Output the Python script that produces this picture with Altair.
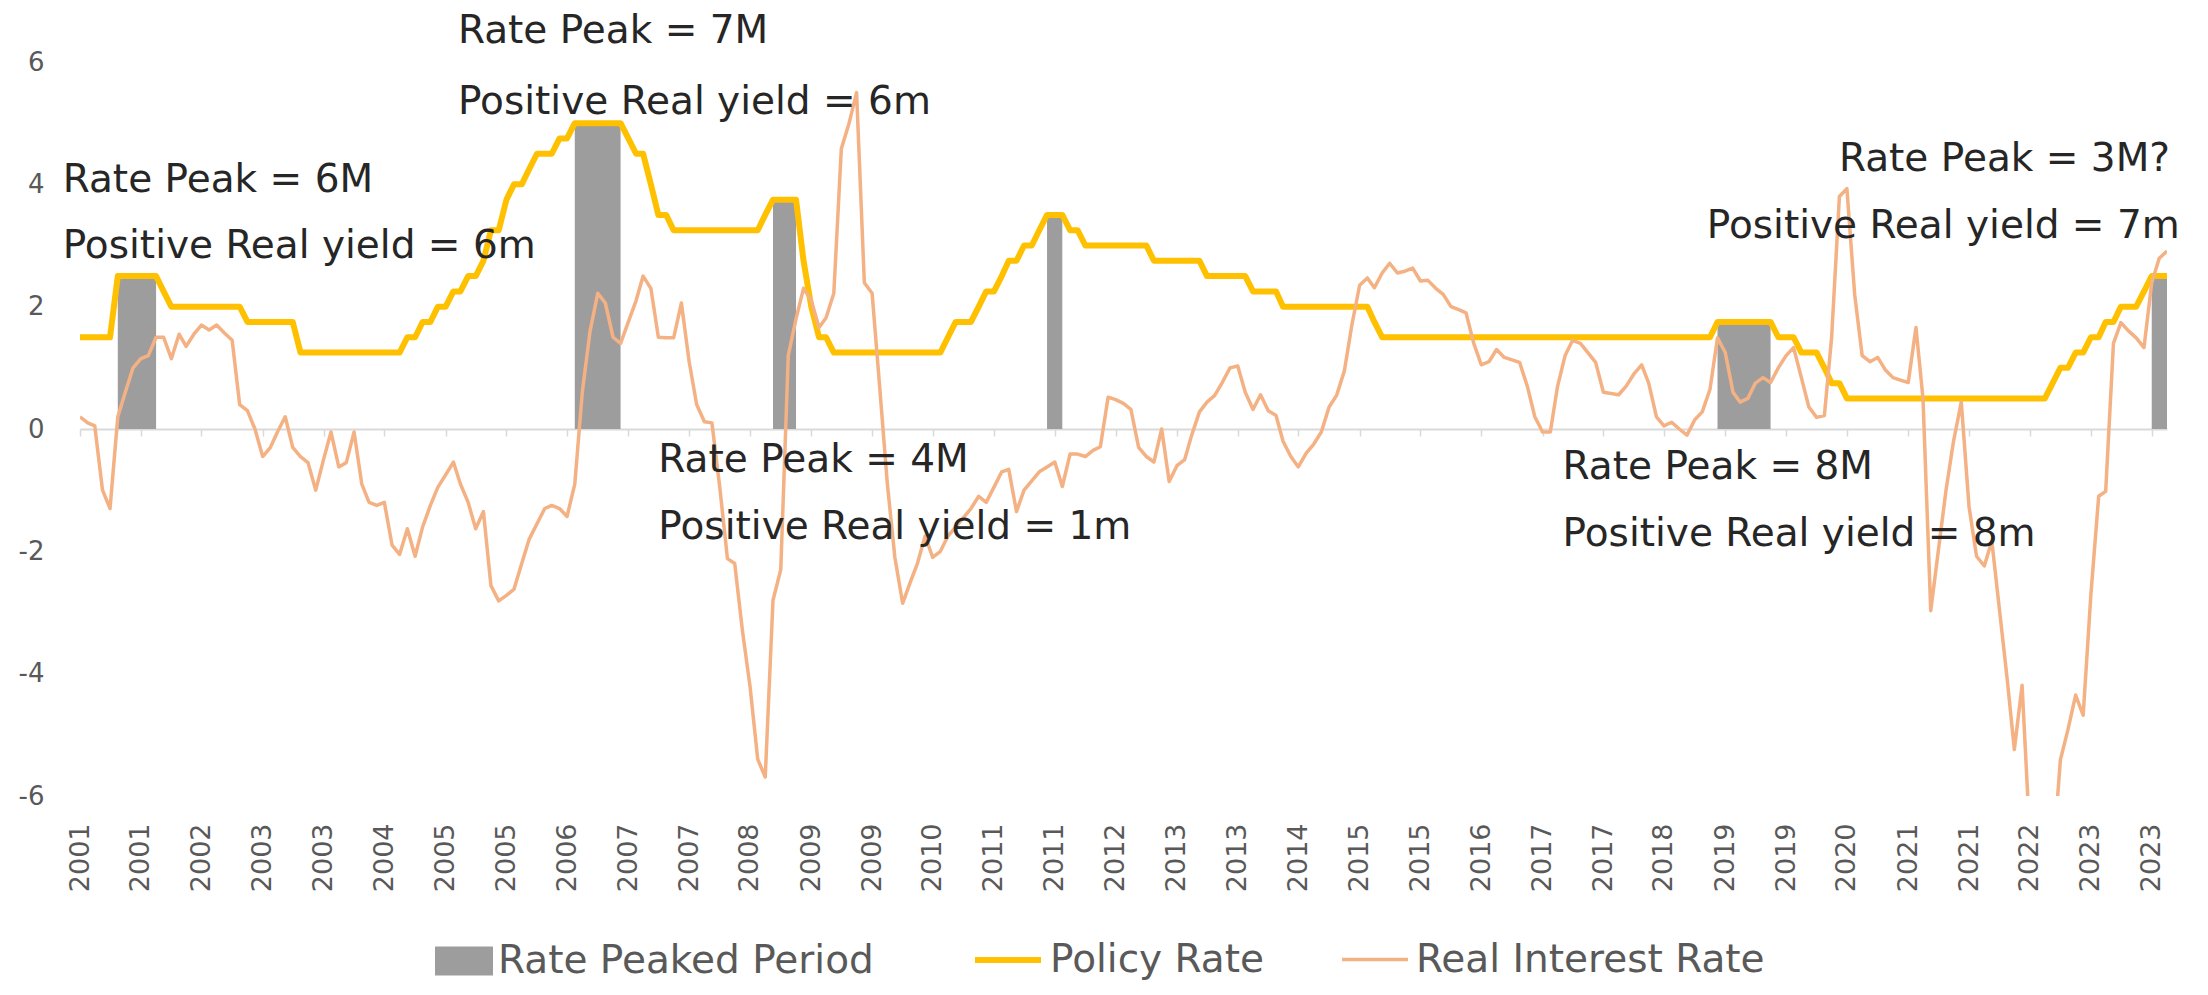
import altair as alt
import pandas as pd

FONT = "DejaVu Sans"

# ---- data (monthly, Jan 2001 .. Nov 2023) ----
start_month = "2001-01-01"

policy_rate = [
    1.5, 1.5, 1.5, 1.5, 1.5, 2.5, 2.5, 2.5, 2.5, 2.5, 2.5, 2.25,      # 2001
    2.0, 2.0, 2.0, 2.0, 2.0, 2.0, 2.0, 2.0, 2.0, 2.0, 1.75, 1.75,     # 2002
    1.75, 1.75, 1.75, 1.75, 1.75, 1.25, 1.25, 1.25, 1.25, 1.25, 1.25, 1.25,  # 2003
    1.25, 1.25, 1.25, 1.25, 1.25, 1.25, 1.25, 1.5, 1.5, 1.75, 1.75, 2.0,    # 2004
    2.0, 2.25, 2.25, 2.5, 2.5, 2.75, 3.25, 3.25, 3.75, 4.0, 4.0, 4.25,      # 2005
    4.5, 4.5, 4.5, 4.75, 4.75, 5.0, 5.0, 5.0, 5.0, 5.0, 5.0, 5.0,           # 2006
    4.75, 4.5, 4.5, 4.0, 3.5, 3.5, 3.25, 3.25, 3.25, 3.25, 3.25, 3.25,      # 2007
    3.25, 3.25, 3.25, 3.25, 3.25, 3.25, 3.5, 3.75, 3.75, 3.75, 3.75, 2.75,  # 2008
    2.0, 1.5, 1.5, 1.25, 1.25, 1.25, 1.25, 1.25, 1.25, 1.25, 1.25, 1.25,    # 2009
    1.25, 1.25, 1.25, 1.25, 1.25, 1.25, 1.5, 1.75, 1.75, 1.75, 2.0, 2.25,   # 2010
    2.25, 2.5, 2.75, 2.75, 3.0, 3.0, 3.25, 3.5, 3.5, 3.5, 3.25, 3.25,       # 2011
    3.0, 3.0, 3.0, 3.0, 3.0, 3.0, 3.0, 3.0, 3.0, 2.75, 2.75, 2.75,          # 2012
    2.75, 2.75, 2.75, 2.75, 2.5, 2.5, 2.5, 2.5, 2.5, 2.5, 2.25, 2.25,       # 2013
    2.25, 2.25, 2.0, 2.0, 2.0, 2.0, 2.0, 2.0, 2.0, 2.0, 2.0, 2.0,           # 2014
    2.0, 2.0, 1.75, 1.5, 1.5, 1.5, 1.5, 1.5, 1.5, 1.5, 1.5, 1.5,            # 2015
    1.5, 1.5, 1.5, 1.5, 1.5, 1.5, 1.5, 1.5, 1.5, 1.5, 1.5, 1.5,             # 2016
    1.5, 1.5, 1.5, 1.5, 1.5, 1.5, 1.5, 1.5, 1.5, 1.5, 1.5, 1.5,             # 2017
    1.5, 1.5, 1.5, 1.5, 1.5, 1.5, 1.5, 1.5, 1.5, 1.5, 1.5, 1.75,            # 2018
    1.75, 1.75, 1.75, 1.75, 1.75, 1.75, 1.75, 1.5, 1.5, 1.5, 1.25, 1.25,    # 2019
    1.25, 1.0, 0.75, 0.75, 0.5, 0.5, 0.5, 0.5, 0.5, 0.5, 0.5, 0.5,          # 2020
    0.5, 0.5, 0.5, 0.5, 0.5, 0.5, 0.5, 0.5, 0.5, 0.5, 0.5, 0.5,             # 2021
    0.5, 0.5, 0.5, 0.5, 0.5, 0.5, 0.5, 0.75, 1.0, 1.0, 1.25, 1.25,          # 2022
    1.5, 1.5, 1.75, 1.75, 2.0, 2.0, 2.0, 2.25, 2.5, 2.5, 2.5,               # 2023
]

real_rate = [
    0.2, 0.1, 0.05, -1.0, -1.3, 0.2, 0.6, 1.0, 1.15, 1.2, 1.5, 1.5,               # 2001
    1.15, 1.55, 1.35, 1.55, 1.7, 1.62, 1.7, 1.57, 1.45, 0.4, 0.3, 0.0,            # 2002
    -0.45, -0.3, -0.05, 0.2, -0.3, -0.45, -0.55, -1.0, -0.5, -0.05, -0.62, -0.55,  # 2003
    -0.05, -0.9, -1.2, -1.25, -1.2, -1.9, -2.05, -1.63, -2.08, -1.6, -1.25, -0.95,  # 2004
    -0.75, -0.54, -0.9, -1.2, -1.63, -1.35, -2.56, -2.81, -2.72, -2.62, -2.2, -1.8,  # 2005
    -1.55, -1.3, -1.25, -1.3, -1.43, -0.9, 0.6, 1.6, 2.22, 2.06, 1.5, 1.4,       # 2006
    1.75, 2.1, 2.5, 2.3, 1.5, 1.49, 1.49, 2.06, 1.1, 0.4, 0.12, 0.1,             # 2007
    -0.94, -2.12, -2.2, -3.3, -4.2, -5.4, -5.69, -2.8, -2.3, 1.2, 1.8, 2.3,      # 2008
    2.1, 1.66, 1.82, 2.22, 4.58, 5.0, 5.5, 2.39, 2.22, 0.7, -0.9, -2.1,          # 2009
    -2.85, -2.5, -2.2, -1.75, -2.1, -2.0, -1.75, -1.6, -1.45, -1.3, -1.1, -1.2,  # 2010
    -0.95, -0.7, -0.66, -1.35, -1.0, -0.85, -0.7, -0.62, -0.54, -0.94, -0.41, -0.41,  # 2011
    -0.45, -0.35, -0.29, 0.52, 0.48, 0.42, 0.32, -0.3, -0.45, -0.54, 0.0, -0.86,  # 2012
    -0.6, -0.5, -0.1, 0.28, 0.44, 0.55, 0.76, 1.0, 1.03, 0.6, 0.32, 0.56,        # 2013
    0.3, 0.22, -0.2, -0.45, -0.62, -0.4, -0.25, -0.05, 0.36, 0.55, 0.95, 1.7,    # 2014
    2.35, 2.47, 2.31, 2.55, 2.71, 2.55, 2.58, 2.63, 2.42, 2.43, 2.3, 2.2,        # 2015
    2.0, 1.95, 1.9, 1.4, 1.05, 1.1, 1.3, 1.17, 1.13, 1.09, 0.7, 0.2,             # 2016
    -0.05, -0.05, 0.68, 1.2, 1.45, 1.4, 1.25, 1.09, 0.6, 0.58, 0.56, 0.7,        # 2017
    0.9, 1.05, 0.75, 0.2, 0.05, 0.11, 0.0, -0.1, 0.15, 0.28, 0.65, 1.49,         # 2018
    1.25, 0.6, 0.44, 0.5, 0.75, 0.84, 0.76, 1.0, 1.2, 1.33, 0.84, 0.36,          # 2019
    0.19, 0.22, 1.5, 3.8, 3.93, 2.2, 1.2, 1.1, 1.17, 0.97, 0.84, 0.8,            # 2020
    0.76, 1.66, 0.5, -2.97, -2.0, -1.0, -0.2, 0.44, -1.27, -2.08, -2.24, -1.83,  # 2021
    -2.97, -4.11, -5.24, -4.19, -6.6, -7.2, -7.1, -7.1, -5.41, -4.92, -4.35, -4.68,  # 2022
    -2.7, -1.1, -1.02, 1.4, 1.74, 1.6, 1.49, 1.33, 2.39, 2.79, 2.91,             # 2023
]

# rate-peak periods (first and last month at the peak) and the peak level
peak_start = ["2001-06", "2006-06", "2008-08", "2011-08", "2018-12", "2023-09"]
peak_end = ["2001-11", "2006-12", "2008-11", "2011-10", "2019-07", "2023-11"]
peak_level = [2.5, 5.0, 3.75, 3.5, 1.75, 2.5]

# annotations
note_text = [
    "Rate Peak = 6M", "Positive Real yield = 6m",
    "Rate Peak = 7M", "Positive Real yield = 6m",
    "Rate Peak = 4M", "Positive Real yield = 1m",
    "Rate Peak = 3M?", "Positive Real yield = 7m",
    "Rate Peak = 8M", "Positive Real yield = 8m",
]
note_date = [
    "2000-10-24", "2000-10-24",
    "2005-02-19", "2005-02-19",
    "2007-05-01", "2007-05-01",
    "2023-11-13", "2023-12-22",
    "2017-03-22", "2017-03-22",
]
note_value = [3.875, 2.795, 6.31, 5.15, -0.70, -1.80, 4.22, 3.12, -0.82, -1.91]
note_align = ["left", "left", "left", "left", "left", "left", "right", "right", "left", "left"]

# ---- tables ----
dates = pd.date_range(start_month, periods=len(policy_rate), freq="MS")
date_str = [d.strftime("%Y-%m-%dT00:00:00") for d in dates]

lines_df = pd.DataFrame({
    "date": date_str * 2,
    "series": ["Policy Rate"] * len(policy_rate) + ["Real Interest Rate"] * len(real_rate),
    "value": policy_rate + real_rate,
})

peaks_df = pd.DataFrame({
    "start": [s + "-01T00:00:00" for s in peak_start],
    "end": [e + "-01T00:00:00" for e in peak_end],
    "level": peak_level,
    "label": ["Rate Peaked Period"] * len(peak_level),
})

notes_df = pd.DataFrame({
    "date": [d + "T00:00:00" for d in note_date],
    "value": note_value,
    "text": note_text,
    "align": note_align,
})

tick_dates = pd.date_range(start_month, periods=35, freq="8MS")
tick_values = [alt.DateTime(year=d.year, month=d.month, date=1) for d in tick_dates]

x_scale = alt.Scale(domain=[alt.DateTime(year=2001, month=1, date=1),
                            alt.DateTime(year=2023, month=11, date=1)], nice=False)
y_scale = alt.Scale(domain=[-6, 6], nice=False, zero=False)

W, H = 2087, 734

x_axis = alt.Axis(
    orient="bottom", offset=-H / 2, values=tick_values, format="%Y",
    labelAngle=-90, labelOverlap=False, labelFlush=False, labelBound=False,
    domainColor="#d9d9d9", domainWidth=2, tickColor="#d9d9d9", tickWidth=1.5,
    tickSize=7, labelPadding=387, labelFont=FONT, labelFontSize=27,
    labelColor="#595959", title=None, grid=False,
)
y_axis = alt.Axis(
    values=[-6, -4, -2, 0, 2, 4, 6], labelExpr="'' + datum.value",
    domain=False, ticks=False, tickSize=0, grid=False, labelPadding=36,
    labelFont=FONT, labelFontSize=26, labelColor="#595959", title=None,
)

bars = alt.Chart(peaks_df).mark_rect(strokeWidth=0).encode(
    x=alt.X("start:T", scale=x_scale, axis=x_axis),
    x2="end:T",
    y=alt.Y("level:Q", scale=y_scale, axis=y_axis),
    y2=alt.datum(0),
    fill=alt.Fill(
        "label:N",
        scale=alt.Scale(domain=["Rate Peaked Period"], range=["#9d9d9d"]),
        legend=alt.Legend(
            orient="none", legendX=355, legendY=870, title=None,
            symbolType="M-1,-0.5H1V0.5H-1Z", symbolSize=3364, symbolStrokeWidth=0,
            symbolOpacity=1, labelFont=FONT, labelFontSize=39, labelColor="#595959",
            labelOffset=5, labelLimit=1000,
        ),
    ),
)

line_legend = alt.Legend(
    orient="none", legendX=892, legendY=862, direction="horizontal", title=None,
    symbolType="stroke", symbolSize=4356, labelFont=FONT, labelFontSize=39,
    labelColor="#595959", labelOffset=6, columnPadding=70, labelLimit=1000,
)

lines = alt.Chart(lines_df).mark_line(clip=True, strokeJoin="round").encode(
    x=alt.X("date:T", scale=x_scale, axis=x_axis),
    y=alt.Y("value:Q", scale=y_scale, axis=y_axis),
    stroke=alt.Stroke(
        "series:N",
        scale=alt.Scale(domain=["Policy Rate", "Real Interest Rate"],
                        range=["#FFC000", "#F4B183"]),
        legend=line_legend,
    ),
    strokeWidth=alt.StrokeWidth(
        "series:N",
        scale=alt.Scale(domain=["Policy Rate", "Real Interest Rate"], range=[6, 3.5]),
        legend=line_legend,
    ),
)

notes_left = alt.Chart(notes_df).transform_filter(alt.datum.align == "left").mark_text(
    align="left", baseline="alphabetic", font=FONT, fontSize=39, color="#262626"
).encode(
    x=alt.X("date:T", scale=x_scale, axis=x_axis),
    y=alt.Y("value:Q", scale=y_scale, axis=y_axis),
    text="text:N",
)
notes_right = alt.Chart(notes_df).transform_filter(alt.datum.align == "right").mark_text(
    align="right", baseline="alphabetic", font=FONT, fontSize=39, color="#262626"
).encode(
    x=alt.X("date:T", scale=x_scale, axis=x_axis),
    y=alt.Y("value:Q", scale=y_scale, axis=y_axis),
    text="text:N",
)

chart = alt.layer(bars, lines, notes_left, notes_right).properties(
    width=W, height=H,
    autosize=alt.AutoSizeParams(type="none"),
    padding={"left": 72, "top": 54, "right": 25, "bottom": 190},
).configure(font=FONT).configure_view(stroke=None)

chart.save("out.html", embed_options={"renderer": "svg", "actions": False})
